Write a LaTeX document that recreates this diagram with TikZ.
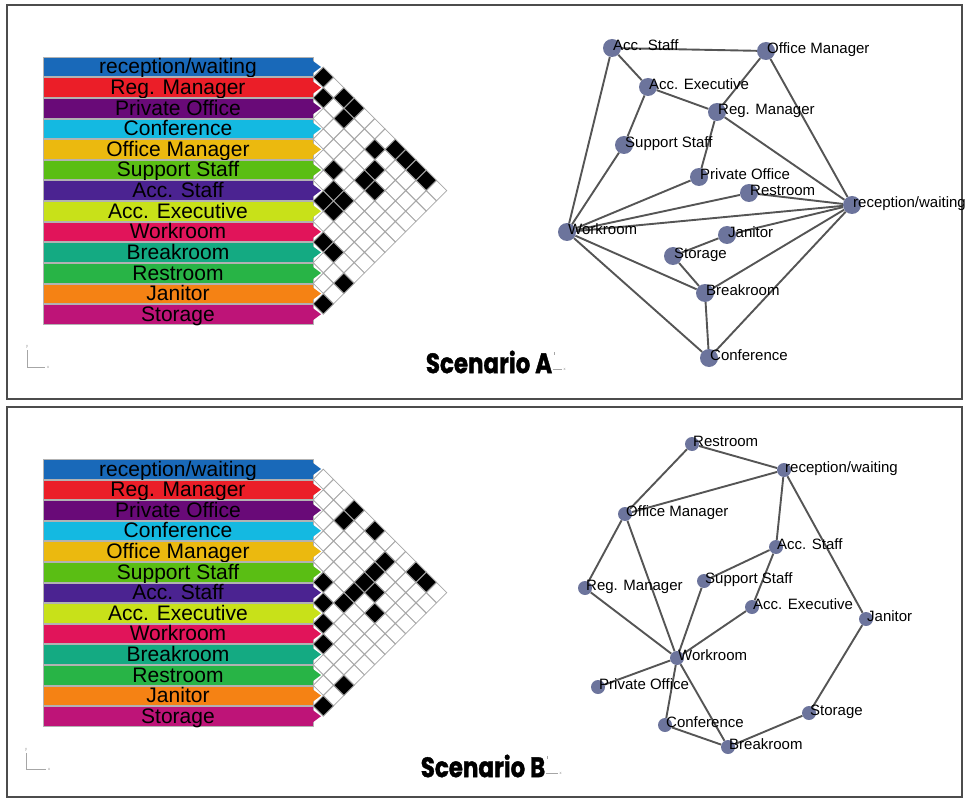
\documentclass[tikz,border=0pt]{standalone}
\usepackage{fontspec}
\usepackage{graphicx}
\setmainfont{Liberation Sans}
\newfontfamily\titlefont{Poppins}[BoldFeatures={FakeBold=1.5}]
\usepackage{tikz}
\usetikzlibrary{shapes.geometric, backgrounds}
\definecolor{cRec}{RGB}{25,105,185}
\definecolor{cReg}{RGB}{235,30,40}
\definecolor{cPri}{RGB}{105,10,120}
\definecolor{cCon}{RGB}{20,185,225}
\definecolor{cOff}{RGB}{235,185,15}
\definecolor{cSup}{RGB}{90,190,20}
\definecolor{cAst}{RGB}{75,35,145}
\definecolor{cAex}{RGB}{200,225,25}
\definecolor{cWrk}{RGB}{225,20,90}
\definecolor{cBrk}{RGB}{20,170,130}
\definecolor{cRst}{RGB}{40,180,70}
\definecolor{cJan}{RGB}{245,130,20}
\definecolor{cSto}{RGB}{190,20,120}
\definecolor{dotc}{RGB}{108,116,156}
\definecolor{linkc}{RGB}{85,85,85}

\begin{document}
\begin{tikzpicture}[
  x=1pt, y=-1pt,
  every node/.style={font=\fontsize{15}{15}\selectfont},
  panel/.style={draw=black!70, line width=1.4pt},
  bar/.style={draw=black!30, line width=0.6pt, minimum width=270pt,
              minimum height=19.6pt, inner sep=0pt, text height=14pt,
              text depth=0pt, font=\fontsize{21}{21}\selectfont},
  cell/.style={diamond, draw=black!35, fill=white, line width=0.8pt,
               minimum width=20.6pt, minimum height=20.6pt, inner sep=0pt},
  on/.style={cell, fill=black},
  dotA/.style={circle, fill=dotc, minimum size=18pt, inner sep=0pt},
  dotB/.style={dotA, minimum size=14pt},
  lbl/.style={anchor=base west, inner sep=0pt, xshift=1pt, yshift=-2.5pt},
  link/.style={draw=linkc, line width=1.9pt},
  title/.style={font=\titlefont\bfseries\fontsize{28}{28}\selectfont, inner sep=0pt},
  ucs/.style={draw=black!35, line width=0.6pt},
  ucslbl/.style={font=\fontsize{4}{4}\selectfont, text=black!45, inner sep=0pt},
]
\useasboundingbox (0,0) rectangle (965,799);

% Panels
\draw[panel] (7,5) rectangle (962,399);
\draw[panel] (7,407) rectangle (962,797);

% ── Room bars and adjacency grids ──
\foreach \p/\yo in {A/67, B/469}{
  \foreach \i/\c/\t in {0/cRec/{reception/waiting}, 1/cReg/{Reg. Manager},
      2/cPri/{Private Office}, 3/cCon/{Conference}, 4/cOff/{Office Manager},
      5/cSup/{Support Staff}, 6/cAst/{Acc. Staff}, 7/cAex/{Acc. Executive},
      8/cWrk/{Workroom}, 9/cBrk/{Breakroom}, 10/cRst/{Restroom},
      11/cJan/{Janitor}, 12/cSto/{Storage}}{
    \node[bar, fill=\c] (bar\p\i) at (178,\yo+20.6*\i) {\t};
  }
  \foreach \i in {0,...,11}{
    \pgfmathtruncatemacro\ja{\i+1}
    \foreach \j in {\ja,...,12}
      \node[cell] (\p\i-\j) at (313+10.3*\j-10.3*\i, \yo+10.3*\i+10.3*\j) {};
  }
  \foreach \i/\c in {0/cRec, 1/cReg, 2/cPri, 3/cCon, 4/cOff, 5/cSup, 6/cAst,
      7/cAex, 8/cWrk, 9/cBrk, 10/cRst, 11/cJan, 12/cSto}
    \fill[\c] (313,\yo+20.6*\i-6) -- (321,\yo+20.6*\i) -- (313,\yo+20.6*\i+6) -- cycle;
}

% Filled cells, scenario A
\foreach \i/\j in {0/1, 1/2, 0/3, 0/4, 1/4, 1/7, 0/8, 0/9, 0/10, 0/11, 4/6,
    2/8, 3/8, 3/9, 6/7, 5/7, 5/8, 6/8, 8/9, 8/10, 9/12, 11/12}
  \node[on] (Aon\i-\j) at (313+10.3*\j-10.3*\i, 67+10.3*\i+10.3*\j) {};

% Filled cells, scenario B
\foreach \i/\j in {0/4, 1/4, 0/6, 1/8, 2/8, 0/10, 0/11, 3/8, 5/6, 4/8, 3/9,
    5/8, 6/7, 4/10, 7/8, 8/9, 9/12, 11/12}
  \node[on] (Bon\i-\j) at (313+10.3*\j-10.3*\i, 469+10.3*\i+10.3*\j) {};

% ── Graph, scenario A ──
\foreach \n/\x/\y/\t in {ast/612/48/{Acc. Staff}, om/766/51/{Office Manager},
    ae/648/87/{Acc. Executive}, reg/717/112/{Reg. Manager},
    ss/624/145/{Support Staff}, po/699/177/{Private Office},
    rest/749/193/{Restroom}, rec/852/205/{reception/waiting},
    work/567/232/{Workroom}, jan/727/235/{Janitor}, sto/673/256/{Storage},
    brk/705/293/{Breakroom}, conf/709/358/{Conference}}{
  \node[dotA] (A-\n) at (\x,\y) {};
  \node[lbl] (A-\n-t) at (A-\n.center) {\t};
}
\begin{scope}[on background layer]
\foreach \a/\b in {rec/reg, reg/po, rec/conf, rec/om, reg/om, reg/ae, rec/work,
    rec/brk, rec/rest, rec/jan, om/ast, po/work, conf/work, conf/brk, ast/ae,
    ss/ae, ss/work, ast/work, work/brk, work/rest, brk/sto, jan/sto}
  \draw[link] (A-\a) -- (A-\b);
\end{scope}

% ── Graph, scenario B ──
\foreach \n/\x/\y/\t in {rest/692/444/{Restroom}, rec/784/470/{reception/waiting},
    om/625/514/{Office Manager}, ast/776/547/{Acc. Staff},
    ss/704/581/{Support Staff}, reg/585/588/{Reg. Manager},
    ae/752/607/{Acc. Executive}, jan/866/619/{Janitor},
    work/677/658/{Workroom}, po/598/687/{Private Office},
    conf/665/725/{Conference}, sto/809/713/{Storage}, brk/728/747/{Breakroom}}{
  \node[dotB] (B-\n) at (\x,\y) {};
  \node[lbl] (B-\n-t) at (B-\n.center) {\t};
}
\begin{scope}[on background layer]
\foreach \a/\b in {rest/rec, rest/om, rec/om, rec/ast, rec/jan, om/reg, om/work,
    ast/ss, ast/ae, ss/work, ae/work, reg/work, work/po, work/conf, work/brk,
    conf/brk, brk/sto, sto/jan}
  \draw[link] (B-\a) -- (B-\b);
\end{scope}

% Axis marks
\draw[ucs] (27,350) -- (27,367) -- (45,367);
\node[ucslbl] (ucsAy) at (27,347) {y};
\node[ucslbl] (ucsAx) at (48,367) {x};
\draw[ucs] (26,753) -- (26,769) -- (46,769);
\node[ucslbl] (ucsBy) at (26,750) {y};
\node[ucslbl] (ucsBx) at (49,769) {x};

% Titles
\node[title] (titleA) at (489,362) {\scalebox{0.82}[1]{Scenario A}};
\node[title] (titleB) at (483,766) {\scalebox{0.82}[1]{Scenario B}};
\draw[ucs] (titleA.north east) ++(2,2) -- ++(0,3);
\draw[ucs] (titleA.south east) ++(1,-4) -- ++(9,0)
  node[ucslbl, anchor=west, xshift=1pt] (ucsTAx) {x};
\draw[ucs] (titleB.north east) ++(2,2) -- ++(0,3);
\draw[ucs] (titleB.south east) ++(1,-4) -- ++(12,0)
  node[ucslbl, anchor=west, xshift=1pt] (ucsTBx) {x};

\end{tikzpicture}
\end{document}
